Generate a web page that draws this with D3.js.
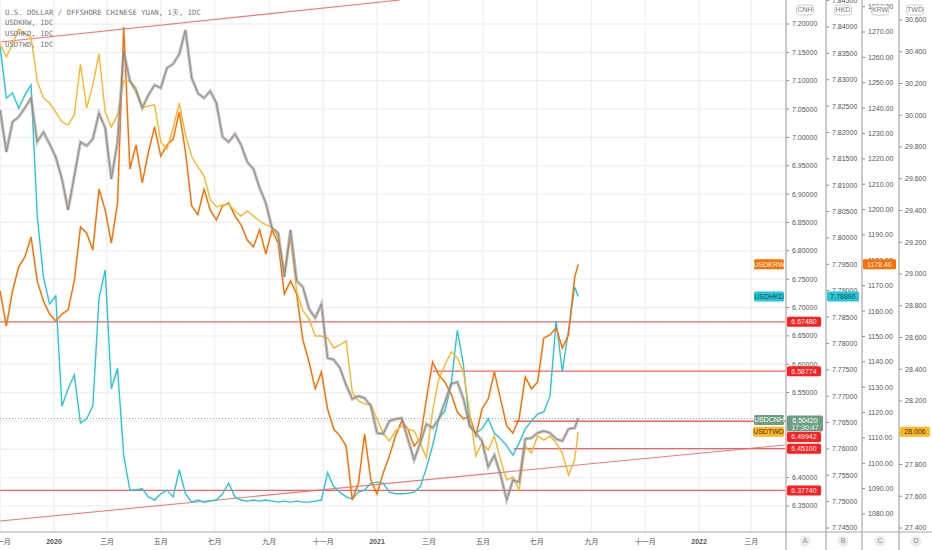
<!DOCTYPE html>
<html>
<head>
<meta charset="utf-8">
<script src="https://cdn.jsdelivr.net/npm/d3@7"></script>
<style>
  html, body { margin: 0; padding: 0; background: #fff; }
  svg { display: block; }
  .legend-text { font-family: 'DejaVu Sans Mono', monospace; font-size: 7.3px; fill: #777; }
  .axis-label { font-family: 'Liberation Sans', Arial, sans-serif; font-size: 7px; fill: #555; }
  .time-label { font-family: 'Liberation Sans', 'Noto Sans CJK SC', sans-serif; font-size: 7px; fill: #555; }
  .badge-text { font-family: 'Liberation Sans', Arial, sans-serif; font-size: 7px; }
</style>
</head>
<body>
<div id="chart"></div>
<script>
// weekly closes, first week starts 2019-11-01, last point 2021-08-17
const firstDate = new Date(2019, 10, 1);
const lastDate = new Date(2021, 7, 17);

const cnh = [7.0483, 6.9742, 7.0272, 7.0360, 7.0519, 7.0695, 6.9919, 7.0095, 6.9884, 6.9654,
  6.9266, 6.8720, 6.9319, 6.9919, 6.9850, 6.9972, 7.0430, 7.0166, 6.9266, 6.9919,
  7.1524, 7.0995, 7.0818, 7.0519, 7.0748, 7.0924, 7.0871, 7.1224, 7.1295, 7.1471,
  7.1894, 7.1050, 7.0780, 7.0695, 7.0818, 7.0607, 7.0007, 6.9919, 7.0060, 6.9866,
  6.9566, 6.9443, 6.9108, 6.8843, 6.8402, 6.8314, 6.7538, 6.8367, 6.7467, 6.7361,
  6.6973, 6.6815, 6.7062, 6.6109, 6.6080, 6.5933, 6.5633, 6.5386, 6.5439, 6.5400,
  6.5263, 6.4787, 6.4770, 6.4998, 6.5033, 6.5051, 6.4681, 6.4310, 6.4610, 6.4945,
  6.4875, 6.5033, 6.5333, 6.5651, 6.5686, 6.5386, 6.4910, 6.4787, 6.4645, 6.4187,
  6.4399, 6.4046, 6.3605, 6.3958, 6.3922, 6.4681, 6.4700, 6.4787, 6.4822, 6.4790,
  6.4681, 6.4645, 6.4857, 6.4875, 6.5042];

const krw = [1167.9, 1154.1, 1167.9, 1177.4, 1181.3, 1189.2, 1171.9, 1164.0, 1158.8, 1156.1,
  1158.8, 1160.5, 1171.9, 1193.1, 1190.8, 1184.1, 1208.1, 1199.8, 1186.8, 1202.6,
  1272.0, 1216.0, 1225.5, 1210.5, 1222.7, 1232.6, 1221.1, 1225.5, 1227.8, 1238.5,
  1222.7, 1201.4, 1198.0, 1208.1, 1199.8, 1195.9, 1201.4, 1202.6, 1197.5, 1193.9,
  1188.0, 1185.3, 1192.0, 1182.5, 1192.0, 1186.8, 1166.7, 1171.9, 1166.7, 1148.6,
  1139.9, 1129.3, 1136.0, 1121.4, 1113.5, 1110.8, 1106.8, 1085.5, 1092.2, 1111.5,
  1093.4, 1087.9, 1096.2, 1102.9, 1110.8, 1116.7, 1113.5, 1106.8, 1109.6, 1125.3,
  1139.9, 1134.8, 1132.0, 1127.3, 1120.2, 1117.5, 1118.6, 1110.8, 1121.4, 1125.3,
  1136.0, 1125.3, 1114.7, 1111.9, 1117.5, 1134.0, 1129.3, 1132.0, 1149.4, 1150.6,
  1153.3, 1145.4, 1150.6, 1173.4, 1178.4];

const hkd = [7.8362, 7.8265, 7.8275, 7.8246, 7.8271, 7.8290, 7.8042, 7.7926, 7.7875, 7.7890,
  7.7681, 7.7714, 7.7740, 7.7649, 7.7657, 7.7681, 7.7886, 7.7939, 7.7714, 7.7753,
  7.7587, 7.7522, 7.7522, 7.7525, 7.7509, 7.7503, 7.7515, 7.7522, 7.7509, 7.7560,
  7.7515, 7.7499, 7.7503, 7.7499, 7.7501, 7.7503, 7.7515, 7.7535, 7.7509, 7.7503,
  7.7501, 7.7503, 7.7501, 7.7503, 7.7501, 7.7499, 7.7501, 7.7499, 7.7501, 7.7499,
  7.7499, 7.7501, 7.7503, 7.7555, 7.7528, 7.7518, 7.7509, 7.7505, 7.7518, 7.7522,
  7.7535, 7.7537, 7.7535, 7.7518, 7.7515, 7.7515, 7.7516, 7.7518, 7.7528, 7.7564,
  7.7606, 7.7657, 7.7672, 7.7721, 7.7825, 7.7759, 7.7643, 7.7630, 7.7638, 7.7657,
  7.7630, 7.7619, 7.7606, 7.7588, 7.7611, 7.7638, 7.7653, 7.7666, 7.7670, 7.7700,
  7.7843, 7.7746, 7.7825, 7.7907, 7.7889];

const twd = [30.449, 30.367, 30.449, 30.543, 30.512, 30.493, 30.216, 30.109, 30.077, 30.020,
  29.957, 29.939, 30.002, 30.323, 30.046, 30.191, 30.386, 30.020, 29.926, 30.002,
  30.216, 30.216, 30.172, 30.046, 30.058, 30.065, 29.832, 29.787, 29.920, 30.077,
  29.876, 29.740, 29.677, 29.617, 29.472, 29.422, 29.435, 29.440, 29.397, 29.365,
  29.397, 29.365, 29.334, 29.309, 29.296, 29.233, 29.013, 29.227, 28.893, 28.767,
  28.717, 28.609, 28.609, 28.597, 28.534, 28.553, 28.578, 28.257, 28.200, 28.181,
  28.180, 28.087, 27.998, 27.948, 28.011, 28.042, 28.024, 28.011, 27.935, 27.841,
  28.137, 28.339, 28.427, 28.509, 28.471, 28.383, 28.131, 27.854, 27.935, 27.891,
  27.980, 27.828, 27.702, 27.721, 27.639, 27.917, 27.872, 27.980, 27.954, 27.980,
  27.935, 27.872, 27.734, 27.830, 28.006];

// drawn levels on the CNH scale
const levelValues = [6.67480, 6.58774, 6.49942, 6.45100, 6.37740];
const levelStarts = ['2019-11-01', '2021-03-05', '2021-06-05', '2021-06-05', '2019-11-01'];

// drawn trend lines on the CNH scale: [start date, start value, end date, end value]
const trendLines = [
  ['2019-11-01', 7.1683, '2021-01-27', 7.2423],
  ['2019-11-01', 6.3235, '2022-04-08', 6.4575],
];

const monthNames = ['一月', '二月', '三月', '四月', '五月', '六月', '七月', '八月', '九月', '十月', '十一月', '十二月'];
const legendLines = ['U.S. DOLLAR / OFFSHORE CHINESE YUAN, 1天, IDC', 'USDKRW, IDC', 'USDHKD, IDC', 'USDTWD, IDC'];
const paneLetters = ['A', 'B', 'C', 'D'];
const countdown = '17:30:47';

class FxChart {
  constructor(_config) {
    this.config = {
      parentElement: _config.parentElement,
      width: 932,
      height: 550,
      plotRight: 785,
      plotBottom: 532,
      colors: {
        cnh: '#a3a3a3', cnhBadge: '#6b9e83', krw: '#ff6f00', hkd: '#26c6da', twd: '#fdb62a',
        level: '#f76060', levelBadge: '#ff1f1f', grid: '#f0f0f0', frame: '#a8a8a8',
      },
    };
    this.render();
  }

  render() {
    const vis = this;
    const cfg = vis.config;
    const parse = d3.timeParse('%Y-%m-%d');

    vis.dates = d3.range(cnh.length - 1).map((i) => d3.timeDay.offset(firstDate, 7 * i)).concat([lastDate]);

    // time scale: one year spans 323px
    vis.x = d3.scaleTime()
      .domain([new Date(2020, 0, 1), new Date(2021, 0, 1)])
      .range([54, 377]);

    // price scales, one per right-hand pane
    vis.yCnh = d3.scaleLinear().domain([6.35, 7.2]).range([505.95, 24]);
    vis.yHkd = d3.scaleLinear().domain([7.745, 7.84]).range([528, 27]);
    vis.yKrw = d3.scaleLinear().domain([1080, 1270]).range([514, 32]);
    vis.yTwd = d3.scaleLinear().domain([27.4, 30.6]).range([528, 20]);

    vis.svg = d3.select(cfg.parentElement).append('svg')
      .attr('width', cfg.width)
      .attr('height', cfg.height);

    vis.svg.append('defs').append('clipPath')
      .attr('id', 'plot-clip')
      .append('rect')
      .attr('width', cfg.plotRight)
      .attr('height', cfg.plotBottom);

    // grid
    const monthTicks = d3.timeMonth.every(2).range(new Date(2019, 10, 1), new Date(2022, 3, 2));
    const cnhTicks = d3.range(127, 145).map((k) => k * 0.05);

    const grid = vis.svg.append('g').attr('class', 'grid');
    grid.selectAll('.hgrid')
      .data(cnhTicks)
      .join('line')
      .attr('x1', 0)
      .attr('x2', cfg.plotRight)
      .attr('y1', (d) => vis.yCnh(d))
      .attr('y2', (d) => vis.yCnh(d))
      .attr('stroke', cfg.colors.grid)
      .attr('stroke-width', 1.3);

    grid.selectAll('.vgrid')
      .data(monthTicks)
      .join('line')
      .attr('x1', (d) => vis.x(d))
      .attr('x2', (d) => vis.x(d))
      .attr('y1', 0)
      .attr('y2', cfg.plotBottom)
      .attr('stroke', cfg.colors.grid)
      .attr('stroke-width', 1.3);

    const plot = vis.svg.append('g').attr('clip-path', 'url(#plot-clip)');

    // last price dotted line for the main symbol
    const lastCnh = cnh[cnh.length - 1];
    plot.append('line')
      .attr('x1', 0)
      .attr('x2', cfg.plotRight)
      .attr('y1', vis.yCnh(lastCnh))
      .attr('y2', vis.yCnh(lastCnh))
      .attr('stroke', '#8fb3a0')
      .attr('stroke-dasharray', '1,2');

    // drawings: horizontal levels and trend lines
    plot.selectAll('.level')
      .data(levelValues)
      .join('line')
      .attr('class', 'level')
      .attr('x1', (d, i) => vis.x(parse(levelStarts[i])))
      .attr('x2', cfg.plotRight)
      .attr('y1', (d) => vis.yCnh(d))
      .attr('y2', (d) => vis.yCnh(d))
      .attr('stroke', cfg.colors.level)
      .attr('stroke-width', 1.3);

    plot.selectAll('.trend')
      .data(trendLines)
      .join('line')
      .attr('class', 'trend')
      .attr('x1', (d) => vis.x(parse(d[0])))
      .attr('y1', (d) => vis.yCnh(d[1]))
      .attr('x2', (d) => vis.x(parse(d[2])))
      .attr('y2', (d) => vis.yCnh(d[3]))
      .attr('stroke', cfg.colors.level)
      .attr('stroke-width', 1.1)
      .attr('opacity', 0.85);

    // series
    const lineFor = (scale) => d3.line()
      .x((d, i) => vis.x(vis.dates[i]))
      .y((d) => scale(d));

    plot.append('path')
      .datum(hkd)
      .attr('fill', 'none')
      .attr('stroke', cfg.colors.hkd)
      .attr('stroke-width', 1.4)
      .attr('d', lineFor(vis.yHkd));

    plot.append('path')
      .datum(krw)
      .attr('fill', 'none')
      .attr('stroke', cfg.colors.krw)
      .attr('stroke-width', 1.5)
      .attr('d', lineFor(vis.yKrw));

    plot.append('path')
      .datum(twd)
      .attr('fill', 'none')
      .attr('stroke', cfg.colors.twd)
      .attr('stroke-width', 1.4)
      .attr('d', lineFor(vis.yTwd));

    // candles look like a grey band with a brownish core
    plot.append('path')
      .datum(cnh)
      .attr('fill', 'none')
      .attr('stroke', cfg.colors.cnh)
      .attr('stroke-width', 3.2)
      .attr('stroke-opacity', 0.65)
      .attr('d', lineFor(vis.yCnh));

    plot.append('path')
      .datum(cnh)
      .attr('fill', 'none')
      .attr('stroke', '#8a7b70')
      .attr('stroke-width', 0.9)
      .attr('stroke-opacity', 0.9)
      .attr('d', lineFor(vis.yCnh));

    // right-hand price axes
    const panes = [
      { x: 786, scale: vis.yCnh, ticks: cnhTicks, fmt: d3.format('.5f') },
      { x: 826, scale: vis.yHkd, ticks: d3.range(1549, 1570).map((k) => k * 0.005), fmt: d3.format('.5f') },
      { x: 862, scale: vis.yKrw, ticks: d3.range(1080, 1290, 10), fmt: d3.format('.2f') },
      { x: 899, scale: vis.yTwd, ticks: d3.range(137, 154).map((k) => k * 0.2), fmt: d3.format('.3f') },
    ];

    panes.forEach((p) => {
      const g = vis.svg.append('g').attr('transform', `translate(${p.x},0)`);
      g.selectAll('line.tick')
        .data(p.ticks)
        .join('line')
        .attr('class', 'tick')
        .attr('x1', 0)
        .attr('x2', 3)
        .attr('y1', (d) => p.scale(d))
        .attr('y2', (d) => p.scale(d))
        .attr('stroke', '#888');
      g.selectAll('text')
        .data(p.ticks)
        .join('text')
        .attr('class', 'axis-label')
        .attr('x', 6)
        .attr('y', (d) => p.scale(d))
        .attr('dy', '0.35em')
        .text((d) => p.fmt(d));
    });

    // frame lines between panes
    vis.svg.selectAll('.frame')
      .data(panes)
      .join('line')
      .attr('x1', (d) => d.x)
      .attr('x2', (d) => d.x)
      .attr('y1', 0)
      .attr('y2', cfg.height)
      .attr('stroke', cfg.colors.frame)
      .attr('stroke-width', 1.2);

    vis.svg.append('line')
      .attr('x1', 0)
      .attr('x2', cfg.width)
      .attr('y1', cfg.plotBottom)
      .attr('y2', cfg.plotBottom)
      .attr('stroke', cfg.colors.frame)
      .attr('stroke-width', 1.2);

    // time labels
    vis.svg.selectAll('.time-label')
      .data(monthTicks)
      .join('text')
      .attr('class', 'time-label')
      .attr('x', (d) => vis.x(d))
      .attr('y', 544)
      .attr('text-anchor', 'middle')
      .attr('font-weight', (d) => (d.getMonth() === 0 ? 'bold' : null))
      .text((d) => (d.getMonth() === 0 ? d.getFullYear() : monthNames[d.getMonth()]));

    // pane letters at the bottom
    const letterX = [805, 843, 880, 916];
    const letters = vis.svg.selectAll('.pane-letter')
      .data(paneLetters)
      .join('g')
      .attr('transform', (d, i) => `translate(${letterX[i]},541)`);
    letters.append('circle').attr('r', 5.5).attr('fill', '#ececec');
    letters.append('text')
      .attr('class', 'badge-text')
      .attr('text-anchor', 'middle')
      .attr('dy', '0.35em')
      .attr('fill', '#888')
      .attr('font-size', 6)
      .text((d) => d);

    // pane header pills
    const pillNames = ['CNH', 'HKD', 'KRW', 'TWD'];
    const pillX = [805, 843, 880, 915];
    const pills = vis.svg.selectAll('.pill')
      .data(pillNames)
      .join('g')
      .attr('transform', (d, i) => `translate(${pillX[i]},10)`);
    pills.append('rect')
      .attr('x', -8.5)
      .attr('y', -5)
      .attr('width', 17)
      .attr('height', 10)
      .attr('rx', 3)
      .attr('fill', '#fff')
      .attr('stroke', '#ccc');
    pills.append('text')
      .attr('class', 'badge-text')
      .attr('text-anchor', 'middle')
      .attr('dy', '0.35em')
      .attr('font-size', 6)
      .attr('fill', '#777')
      .text((d) => d);

    const badge = (x, y, w, h, fill, txt, txtColor) => {
      const g = vis.svg.append('g');
      g.append('rect')
        .attr('x', x)
        .attr('y', y - h / 2)
        .attr('width', w)
        .attr('height', h)
        .attr('rx', 1.5)
        .attr('fill', fill);
      g.append('text')
        .attr('class', 'badge-text')
        .attr('x', x + w / 2)
        .attr('y', y)
        .attr('dy', '0.35em')
        .attr('text-anchor', 'middle')
        .attr('fill', txtColor)
        .text(txt);
      return g;
    };

    // main symbol price badge (two lines), fixed position
    const cnhY = vis.yCnh(lastCnh);
    const cnhBox = { top: cnhY - 3, bottom: cnhY + 13 };
    vis.svg.append('rect')
      .attr('x', 787)
      .attr('y', cnhBox.top)
      .attr('width', 36)
      .attr('height', cnhBox.bottom - cnhBox.top)
      .attr('rx', 1.5)
      .attr('fill', cfg.colors.cnhBadge);
    vis.svg.append('text')
      .attr('class', 'badge-text')
      .attr('x', 805)
      .attr('y', cnhY + 2)
      .attr('dy', '0.35em')
      .attr('text-anchor', 'middle')
      .attr('fill', '#fff')
      .text(d3.format('.5f')(lastCnh));
    vis.svg.append('text')
      .attr('class', 'badge-text')
      .attr('x', 805)
      .attr('y', cnhY + 9)
      .attr('dy', '0.35em')
      .attr('text-anchor', 'middle')
      .attr('fill', '#e8f0ea')
      .text(countdown);

    // level badges, pushed below the price badge when they collide
    const taken = [cnhBox];
    levelValues.slice().sort((a, b) => b - a).forEach((v) => {
      let y = vis.yCnh(v);
      taken.forEach((b) => {
        if (y + 5 > b.top && y - 5 < b.bottom) y = b.bottom + 5.5;
      });
      taken.push({ top: y - 5, bottom: y + 5 });
      badge(787, y, 34, 10, cfg.colors.levelBadge, d3.format('.5f')(v), '#fff');
    });

    // value badges in their own panes
    badge(863, vis.yKrw(krw[krw.length - 1]), 33, 10, cfg.colors.krw, d3.format('.2f')(krw[krw.length - 1]), '#fff');
    badge(827, vis.yHkd(hkd[hkd.length - 1]), 32, 10, cfg.colors.hkd, d3.format('.5f')(hkd[hkd.length - 1]), '#1b4b52');
    badge(900, vis.yTwd(twd[twd.length - 1]), 30, 10, cfg.colors.twd, d3.format('.3f')(twd[twd.length - 1]), '#4a3500');

    // symbol name badges just left of the axis
    badge(754, vis.yKrw(krw[krw.length - 1]), 30, 10, cfg.colors.krw, 'USDKRW', '#fff');
    badge(754, vis.yHkd(hkd[hkd.length - 1]), 30, 10, cfg.colors.hkd, 'USDHKD', '#1b4b52');
    badge(754, cnhY + 1.5, 30, 10, cfg.colors.cnhBadge, 'USDCNH', '#fff');
    badge(753, vis.yTwd(twd[twd.length - 1]), 31, 10, cfg.colors.twd, 'USDTWD', '#4a3500');

    // legend
    vis.svg.selectAll('.legend-text')
      .data(legendLines)
      .join('text')
      .attr('class', 'legend-text')
      .attr('x', 5)
      .attr('y', (d, i) => 14.5 + i * 10.8)
      .text((d) => d);
  }
}

new FxChart({ parentElement: '#chart' });
</script>
</body>
</html>
